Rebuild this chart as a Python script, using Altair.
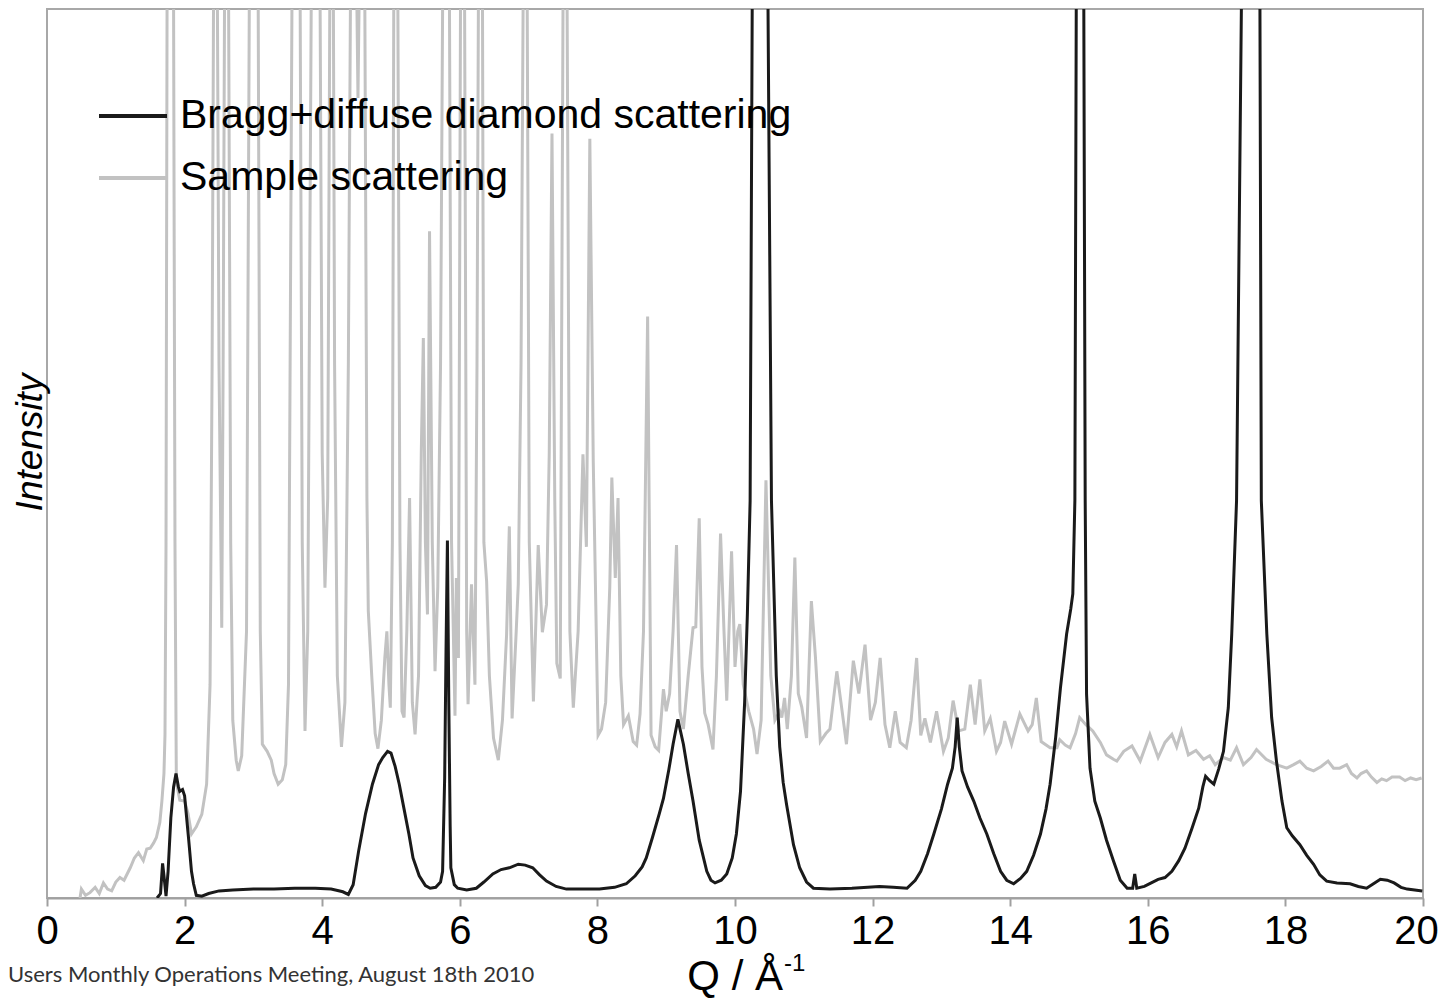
import altair as alt
import pandas as pd

# Bragg+diffuse diamond scattering (black)
q_diamond = [1.60, 1.65, 1.68, 1.70, 1.73, 1.76, 1.80, 1.84, 1.875, 1.91, 1.93, 1.97, 2.00, 2.03, 2.06, 2.10,
             2.13, 2.17, 2.25, 2.35, 2.50, 2.70, 3.00, 3.30, 3.60, 3.90, 4.13, 4.30, 4.38, 4.45, 4.53, 4.63,
             4.73, 4.82, 4.88, 4.95, 5.00, 5.06, 5.12, 5.19, 5.26, 5.32, 5.41, 5.50, 5.57, 5.65, 5.72, 5.75,
             5.78, 5.80, 5.82, 5.84, 5.86, 5.87, 5.92, 5.97, 6.10, 6.24, 6.35, 6.48, 6.60, 6.72, 6.85, 6.95,
             7.06, 7.16, 7.26, 7.40, 7.55, 8.03, 8.25, 8.42, 8.55, 8.65, 8.71, 8.80, 8.90, 8.96, 9.04, 9.10,
             9.17, 9.25, 9.32, 9.39, 9.48, 9.59, 9.65, 9.71, 9.80, 9.88, 9.96, 10.02, 10.08, 10.14, 10.18, 10.22,
             10.25, 10.37, 10.48, 10.53, 10.60, 10.65, 10.70, 10.75, 10.85, 10.94, 11.04, 11.14, 11.38, 11.70, 12.10, 12.30,
             12.50, 12.62, 12.70, 12.80, 12.89, 13.00, 13.09, 13.16, 13.20, 13.23, 13.26, 13.30, 13.38, 13.47, 13.56, 13.66,
             13.76, 13.86, 13.95, 14.05, 14.15, 14.24, 14.34, 14.44, 14.52, 14.58, 14.66, 14.73, 14.82, 14.88, 14.91, 14.94,
             14.96, 15.02, 15.07, 15.09, 15.11, 15.16, 15.23, 15.31, 15.40, 15.50, 15.60, 15.70, 15.78, 15.81, 15.84, 15.95,
             16.05, 16.15, 16.25, 16.35, 16.45, 16.54, 16.64, 16.74, 16.80, 16.84, 16.90, 16.96, 17.03, 17.10, 17.17, 17.22,
             17.29, 17.36, 17.50, 17.63, 17.65, 17.73, 17.80, 17.87, 17.95, 18.02, 18.10, 18.21, 18.31, 18.41, 18.50, 18.60,
             18.75, 18.94, 19.06, 19.18, 19.28, 19.38, 19.48, 19.58, 19.68, 19.77, 19.99]
i_diamond = [0.0, 0.5, 3.9, 2.5, 0.2, 3.0, 9.0, 12.5, 14.0, 12.5, 12.0, 12.2, 11.5, 9.0, 6.5, 3.0,
             1.6, 0.3, 0.2, 0.5, 0.8, 0.9, 1.0, 1.0, 1.1, 1.1, 1.0, 0.7, 0.4, 1.5, 5.3, 9.5,
             12.8, 15.0, 15.8, 16.5, 16.3, 14.8, 12.8, 10.0, 7.2, 4.5, 2.5, 1.4, 1.1, 1.2, 1.8, 3.0,
             13.5, 28.0, 40.2, 22.0, 8.0, 3.4, 1.5, 1.1, 0.9, 1.1, 1.8, 2.7, 3.2, 3.4, 3.8, 3.7,
             3.4, 2.6, 1.9, 1.3, 1.0, 1.0, 1.2, 1.6, 2.5, 3.5, 4.5, 6.8, 9.5, 11.2, 14.5, 17.3,
             20.1, 17.3, 14.0, 10.9, 6.5, 3.0, 2.0, 1.7, 2.0, 2.7, 4.5, 7.2, 12.0, 22.0, 32.0, 44.7,
             100, 125, 100, 44.7, 25.0, 17.0, 13.0, 10.5, 6.0, 3.4, 1.8, 1.1, 1.0, 1.1, 1.3, 1.2,
             1.1, 2.0, 3.0, 5.0, 7.2, 10.0, 12.8, 14.6, 17.0, 20.3, 17.0, 14.3, 12.5, 10.9, 9.0, 7.2,
             5.0, 3.0, 2.0, 1.6, 2.2, 3.0, 4.8, 7.2, 10.0, 12.8, 18.0, 23.6, 29.7, 32.5, 34.2, 44.7,
             100, 125, 100, 44.7, 22.9, 14.6, 10.9, 9.0, 6.5, 4.2, 2.0, 1.1, 1.1, 2.7, 1.1, 1.3,
             1.7, 2.1, 2.3, 3.0, 4.2, 5.6, 7.8, 10.1, 12.5, 13.7, 13.2, 12.8, 14.5, 16.5, 21.4, 29.7,
             44.7, 100, 125, 100, 44.7, 29.7, 20.3, 15.4, 10.9, 7.9, 7.0, 6.0, 4.8, 3.8, 2.6, 1.9,
             1.7, 1.6, 1.3, 1.1, 1.6, 2.1, 2.0, 1.7, 1.2, 1.0, 0.8]

# Sample scattering (grey)
q_sample = [0.48, 0.50, 0.56, 0.625, 0.70, 0.76, 0.82, 0.88, 0.94, 1.00, 1.06, 1.12, 1.21, 1.27, 1.33, 1.40,
            1.45, 1.50, 1.55, 1.59, 1.64, 1.67, 1.70, 1.715, 1.73, 1.745, 1.79, 1.84, 1.86, 1.88, 1.93, 2.00,
            2.05, 2.10, 2.17, 2.25, 2.32, 2.37, 2.40, 2.42, 2.46, 2.50, 2.54, 2.56, 2.58, 2.61, 2.64, 2.67,
            2.70, 2.75, 2.78, 2.83, 2.90, 2.94, 3.00, 3.07, 3.10, 3.13, 3.20, 3.26, 3.30, 3.36, 3.42, 3.47,
            3.51, 3.56, 3.62, 3.68, 3.71, 3.75, 3.79, 3.84, 3.91, 3.97, 4.00, 4.04, 4.08, 4.11, 4.15, 4.18,
            4.22, 4.28, 4.33, 4.38, 4.41, 4.46, 4.52, 4.58, 4.62, 4.65, 4.67, 4.72, 4.77, 4.81, 4.86, 4.91,
            4.94, 4.97, 4.99, 5.02, 5.04, 5.07, 5.10, 5.13, 5.16, 5.19, 5.23, 5.27, 5.31, 5.35, 5.40, 5.44,
            5.47, 5.50, 5.53, 5.56, 5.60, 5.64, 5.68, 5.72, 5.75, 5.80, 5.85, 5.88, 5.93, 5.95, 5.98, 6.01,
            6.04, 6.07, 6.10, 6.12, 6.17, 6.22, 6.25, 6.27, 6.30, 6.33, 6.35, 6.39, 6.43, 6.49, 6.56, 6.62,
            6.68, 6.72, 6.76, 6.82, 6.85, 6.89, 6.92, 6.95, 6.98, 7.01, 7.07, 7.14, 7.20, 7.26, 7.30, 7.34,
            7.38, 7.41, 7.46, 7.50, 7.53, 7.56, 7.60, 7.65, 7.72, 7.79, 7.84, 7.89, 7.94, 8.01, 8.06, 8.12,
            8.18, 8.21, 8.26, 8.30, 8.34, 8.38, 8.45, 8.52, 8.57, 8.62, 8.67, 8.73, 8.78, 8.84, 8.89, 8.96,
            9.00, 9.05, 9.10, 9.15, 9.20, 9.25, 9.32, 9.39, 9.43, 9.48, 9.52, 9.56, 9.61, 9.68, 9.73, 9.79,
            9.84, 9.88, 9.95, 10.00, 10.04, 10.07, 10.12, 10.20, 10.27, 10.32, 10.38, 10.45, 10.52, 10.58, 10.65, 10.68,
            10.72, 10.76, 10.82, 10.87, 10.92, 10.97, 11.04, 11.11, 11.17, 11.24, 11.32, 11.38, 11.48, 11.54, 11.62, 11.72,
            11.80, 11.89, 11.97, 12.04, 12.11, 12.18, 12.25, 12.33, 12.40, 12.49, 12.56, 12.64, 12.70, 12.76, 12.84, 12.93,
            13.03, 13.10, 13.17, 13.25, 13.34, 13.42, 13.49, 13.56, 13.63, 13.71, 13.80, 13.86, 13.92, 14.02, 14.14, 14.26,
            14.32, 14.38, 14.45, 14.58, 14.68, 14.72, 14.80, 14.87, 14.95, 15.01, 15.10, 15.20, 15.31, 15.40, 15.50, 15.55,
            15.65, 15.77, 15.89, 16.03, 16.15, 16.25, 16.35, 16.42, 16.49, 16.59, 16.70, 16.81, 16.90, 16.98, 17.10, 17.20,
            17.29, 17.39, 17.50, 17.58, 17.72, 17.87, 18.02, 18.12, 18.21, 18.31, 18.41, 18.52, 18.62, 18.70, 18.79, 18.89,
            18.96, 19.04, 19.10, 19.18, 19.25, 19.33, 19.40, 19.47, 19.55, 19.66, 19.74, 19.82, 19.90, 19.98]
i_sample = [0.0, 1.0, 0.3, 0.6, 1.2, 0.5, 1.7, 1.0, 0.8, 1.8, 2.3, 2.0, 3.4, 4.5, 5.1, 4.2,
            5.5, 5.6, 6.2, 6.8, 8.5, 10.9, 14.0, 18.4, 40, 100, 130, 100, 40, 13.0, 11.0, 10.9,
            9.5, 7.2, 8.0, 9.4, 12.8, 24, 60, 100, 130, 60, 30.4, 60, 100, 130, 100, 40,
            20, 15.5, 14.3, 16, 30, 100, 130, 100, 30, 17.3, 16.5, 15.5, 14.0, 12.8, 13.3, 15.0,
            24, 100, 130, 100, 40, 18.8, 30, 100, 130, 100, 50, 34.9, 45, 100, 130, 60,
            25, 17.0, 22, 60, 100, 130, 90, 130, 100, 45, 32.3, 25, 18.5, 16.8, 20, 27,
            30, 24, 21.4, 40, 100, 130, 100, 40, 21, 20.3, 30, 45, 22, 18.4, 25, 50,
            63, 40, 31.9, 75, 40, 25.5, 35, 60, 100, 130, 100, 40, 20.5, 36, 27, 100,
            130, 100, 30, 21.8, 35.3, 24, 60, 100, 130, 100, 40, 35.6, 25, 18, 15.5, 20,
            29.6, 41.8, 20.2, 30, 35.3, 60, 100, 130, 100, 40, 22.1, 39.7, 29.9, 33, 50, 86,
            45, 26.4, 24.7, 100, 130, 100, 30, 21.4, 30, 49.9, 39.5, 85.4, 49, 18.3, 19, 22,
            35, 47.3, 36, 45, 25, 19.5, 20.5, 17.6, 17.2, 20.7, 30, 65.4, 18.3, 17, 16.6, 23.5,
            21, 23, 30, 39.7, 21, 19, 25, 30.4, 30.5, 42.7, 26, 20.8, 19.5, 16.7, 25, 41,
            30, 22.2, 39, 26, 30, 30.8, 24, 21, 19, 16.2, 20, 47, 25, 20, 21, 20.3,
            22.5, 19, 25, 38.3, 23, 21.5, 18, 33.4, 27, 17.6, 18.5, 19, 25.5, 22, 17.3, 26.7,
            23, 28.5, 20, 22, 27, 19.5, 16.9, 21, 17.5, 16.9, 20, 27, 18.3, 20.2, 17.5, 21,
            16.5, 18, 22.2, 18.8, 19, 24, 19.5, 24.6, 18.8, 20.2, 16.5, 17.5, 19.9, 17.3, 20.7, 18.8,
            19.5, 22.5, 17.6, 16.9, 16.9, 17.8, 17.2, 16.9, 18.5, 20.3, 19.5, 18.8, 17.5, 16.1, 15.6, 15.4,
            16.5, 17.1, 15.4, 18.4, 15.8, 17.5, 18.4, 17.0, 18.8, 16.1, 16.6, 15.6, 16.0, 15.0, 15.8, 15.5,
            16.9, 15.0, 15.8, 16.7, 15.6, 15.0, 14.6, 15.0, 15.4, 14.6, 14.3, 14.8, 15.4, 14.6, 14.6, 15.0,
            14.0, 13.5, 14.0, 14.3, 13.6, 13.0, 13.4, 13.2, 13.6, 13.6, 13.2, 13.5, 13.3, 13.5]

series_names = ["Bragg+diffuse diamond scattering", "Sample scattering"]
series_colors = ["#1a1a1a", "#c2c2c2"]
x_ticks = [0, 2, 4, 6, 8, 10, 12, 14, 16, 18, 20]

df_d = pd.DataFrame({"Q": q_diamond, "I": i_diamond, "series": series_names[0]})
df_s = pd.DataFrame({"Q": q_sample, "I": i_sample, "series": series_names[1]})

FONT = "Liberation Sans"

x_enc = alt.X("Q:Q", scale=alt.Scale(domain=[0, 20], nice=False),
              axis=alt.Axis(values=x_ticks, title=None, grid=False, labelFont=FONT, labelFontSize=40,
                            labelColor="black", labelFlush=False, labelPadding=5,
                            labelOffset=alt.condition("datum.value == 20", alt.value(-7), alt.value(0)),
                            tickColor="#a0a0a0", tickWidth=2, tickSize=8,
                            domainColor="#a0a0a0", domainWidth=2))
y_enc = alt.Y("I:Q", scale=alt.Scale(domain=[0, 100], nice=False, zero=True),
              axis=alt.Axis(title="Intensity", labels=False, ticks=False, domain=False, grid=False,
                            titleFont=FONT, titleFontStyle="italic", titleFontWeight="normal",
                            titleFontSize=37, titleColor="black", titleAngle=270, titleX=-6, titleY=433,
                            titleAlign="center", titleBaseline="alphabetic"))
legend = alt.Legend(title=None, orient="none", legendX=50, legendY=71, symbolType="stroke",
                    symbolSize=4624, symbolStrokeWidth=4, labelFont=FONT, labelFontSize=41,
                    labelColor="black", labelOffset=11, labelLimit=0, rowPadding=6)
color_enc = alt.Color("series:N", scale=alt.Scale(domain=series_names, range=series_colors), legend=legend)

sample_line = alt.Chart(df_s).mark_line(strokeWidth=3, clip=True).encode(
    x=x_enc, y=y_enc, color=color_enc, order="Q:Q")
diamond_line = alt.Chart(df_d).mark_line(strokeWidth=3, clip=True).encode(
    x=x_enc, y=y_enc, color=color_enc, order="Q:Q")

footer = alt.Chart(pd.DataFrame({"t": ["Users Monthly Operations Meeting, August 18th 2010"]})).mark_text(
    align="left", baseline="alphabetic", font="Lato", fontSize=22, color="#333333").encode(
    x=alt.value(-39), y=alt.value(973), text="t:N")
qtitle = alt.Chart(pd.DataFrame({"t": ["Q / Å"]})).mark_text(
    align="right", baseline="alphabetic", font=FONT, fontSize=42, color="black").encode(
    x=alt.value(736), y=alt.value(981), text="t:N")
qsup = alt.Chart(pd.DataFrame({"t": ["-1"]})).mark_text(
    align="left", baseline="alphabetic", font=FONT, fontSize=24, color="black").encode(
    x=alt.value(737), y=alt.value(962), text="t:N")

chart = alt.layer(sample_line, diamond_line, footer, qtitle, qsup).properties(
    width=1376, height=889,
    padding={"left": 39, "top": 1, "right": 16, "bottom": 100},
    autosize=alt.AutoSizeParams(type="none"),
).configure_view(stroke="#a8a8a8", strokeWidth=2)

chart.save("out.html", embed_options={"renderer": "svg", "actions": False})
